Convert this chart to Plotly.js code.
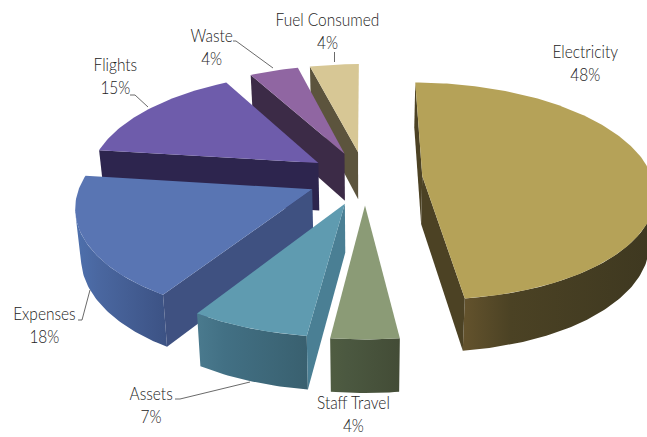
<!DOCTYPE html>
<html>
<head>
<meta charset="utf-8">
<script src="https://cdn.plot.ly/plotly-3.0.1.min.js"></script>
<style>html,body{margin:0;padding:0;background:#fff}#chart{width:647px;height:437px}</style>
</head>
<body>
<div id="chart"></div>
<script>
// Emissions by source, clockwise from twelve o'clock
const categories = ['Electricity', 'Staff Travel', 'Assets', 'Expenses', 'Flights', 'Waste', 'Fuel Consumed'];
const shares = [48, 4, 7, 18, 15, 4, 4];

const topColors = ['#b5a258', '#8b9b76', '#5f9bb0', '#5975b3', '#6e5cab', '#9066a2', '#d7c795'];
const cutColors = ['#4c4224', '#4d5a3f', '#4a7f94', '#3f5181', '#2d254e', '#3c2b47', '#5c543d'];
const rimLeft = ['#64532d', '#4f5c41', '#4a7a8e', '#4e70ad', '#3a3060', '#4a3558', '#6a6147'];
const rimMid = ['#4b4224', '#4b5840', '#427084', '#4a67a0', '#332a56', '#433050', '#635a42'];
const rimRight = ['#3e3820', '#434c36', '#39606f', '#3c5284', '#2d254e', '#3c2b47', '#5c543d'];

// Label centres and leader polylines, in axis units
const labelX = [585, 353, 151, 44, 115, 211, 327];
const labelY = [62, 413, 404, 324, 75, 46, 30];
const leaders = [
  [[334.5, 334.5], [52, 62]],
  [[233, 236, 273], [41, 41, 68]],
  [[130, 135, 148], [95, 95, 107]],
  [[78, 82, 90], [320, 320, 290]],
  [[175, 180, 250], [399, 399, 382]]
];

// Camera: a ground-plane homography with its vanishing point above the chart
const VX = 365, VY = -590, H = 767.7, P = 0.1392, A = 230;
const EXPLODE = 0.25;
const LABEL_CONDENSE = 0.86;

function project(wx, wy) {
  const s = 1 / (1 - P * wy);
  return [VX + wx * A * s, VY + H * s];
}
function dropped(pt) {
  const h = 47 + (pt[1] - 150) * 0.035;
  return [VX + (pt[0] - VX) * 0.98, pt[1] + h];
}
function polygon(points, color, gradient) {
  const tr = {
    x: points.map(p => p[0]).concat(points[0][0]),
    y: points.map(p => p[1]).concat(points[0][1]),
    mode: 'lines', fill: 'toself', line: {width: 0, color: color},
    fillcolor: color, hoverinfo: 'skip', showlegend: false
  };
  if (gradient) {
    tr.fillgradient = {
      type: 'horizontal',
      colorscale: [[0, gradient[0]], [0.25, gradient[1]], [1, gradient[2]]]
    };
  }
  return tr;
}
function signedArea(pts) {
  let a = 0;
  pts.forEach((p, i) => {
    const q = pts[(i + 1) % pts.length];
    a += p[0] * q[1] - q[0] * p[1];
  });
  return a / 2;
}

const total = shares.reduce((a, b) => a + b, 0);
const traces = [];
const wedges = [];
let cursor = 0;
shares.forEach((v, i) => {
  const from = cursor, to = cursor + v / total * 2 * Math.PI;
  cursor = to;
  wedges.push({i, from, to});
});

// Painted back to front: the wedges closest to the viewer go last
[6, 5, 4, 3, 2, 1, 0].forEach(idx => {
  const {i, from, to} = wedges[idx];
  const mid = (from + to) / 2;
  const ox = EXPLODE * Math.sin(mid), oy = -EXPLODE * Math.cos(mid);
  const rimAt = t => project(ox + Math.sin(t), oy - Math.cos(t));
  const apex = project(ox, oy);
  const steps = Math.max(6, Math.round((to - from) / (Math.PI / 180)));
  const rim = [];
  for (let k = 0; k <= steps; k++) rim.push(rimAt(from + (to - from) * k / steps));

  // Outer wall: only the stretches that face the camera
  let run = [];
  const flush = () => {
    if (run.length > 1) {
      const wall = run.concat(run.slice().reverse().map(dropped));
      traces.push(polygon(wall, rimRight[i], [rimLeft[i], rimMid[i], rimRight[i]]));
    }
    run = [];
  };
  for (let k = 0; k < steps; k++) {
    const q = [rim[k], rim[k + 1], dropped(rim[k + 1]), dropped(rim[k])];
    if (signedArea(q) < 0) {
      if (!run.length) run.push(rim[k]);
      run.push(rim[k + 1]);
    } else flush();
  }
  flush();

  // Flat cut faces either side of the apex
  const startCut = [apex, rim[0], dropped(rim[0]), dropped(apex)];
  const endCut = [rim[steps], apex, dropped(apex), dropped(rim[steps])];
  [startCut, endCut].forEach(q => {
    if (signedArea(q) < 0) traces.push(polygon(q, cutColors[i]));
  });

  traces.push(polygon([apex].concat(rim), topColors[i]));
});

leaders.forEach(l => traces.push({
  x: l[0], y: l[1], mode: 'lines', line: {color: '#444444', width: 0.8},
  hoverinfo: 'skip', showlegend: false
}));

const annotations = categories.map((c, i) => ({
  x: labelX[i], y: labelY[i], xref: 'x', yref: 'y',
  text: c + '<br>' + shares[i] + '%', showarrow: false,
  xanchor: 'center', yanchor: 'middle', align: 'center',
  font: {family: 'Lato, sans-serif', size: 18, color: '#222222', weight: 300}
}));

const hidden = {visible: false, fixedrange: true};
Plotly.newPlot('chart', traces, {
  width: 647, height: 437,
  margin: {l: 0, r: 0, t: 0, b: 0},
  paper_bgcolor: '#ffffff', plot_bgcolor: '#ffffff',
  xaxis: Object.assign({range: [0, 647]}, hidden),
  yaxis: Object.assign({range: [437, 0]}, hidden),
  showlegend: false,
  annotations
}, {staticPlot: true, displayModeBar: false}).then(gd => {
  // The label face has no condensed cut, so narrow each label about its own centre
  gd.querySelectorAll('.annotation-text').forEach(t => {
    const b = t.getBBox();
    const cx = b.x + b.width / 2;
    t.setAttribute('transform',
      'translate(' + cx + ' 0) scale(' + LABEL_CONDENSE + ' 1) translate(' + (-cx) + ' 0)');
  });
});
</script>
</body>
</html>
